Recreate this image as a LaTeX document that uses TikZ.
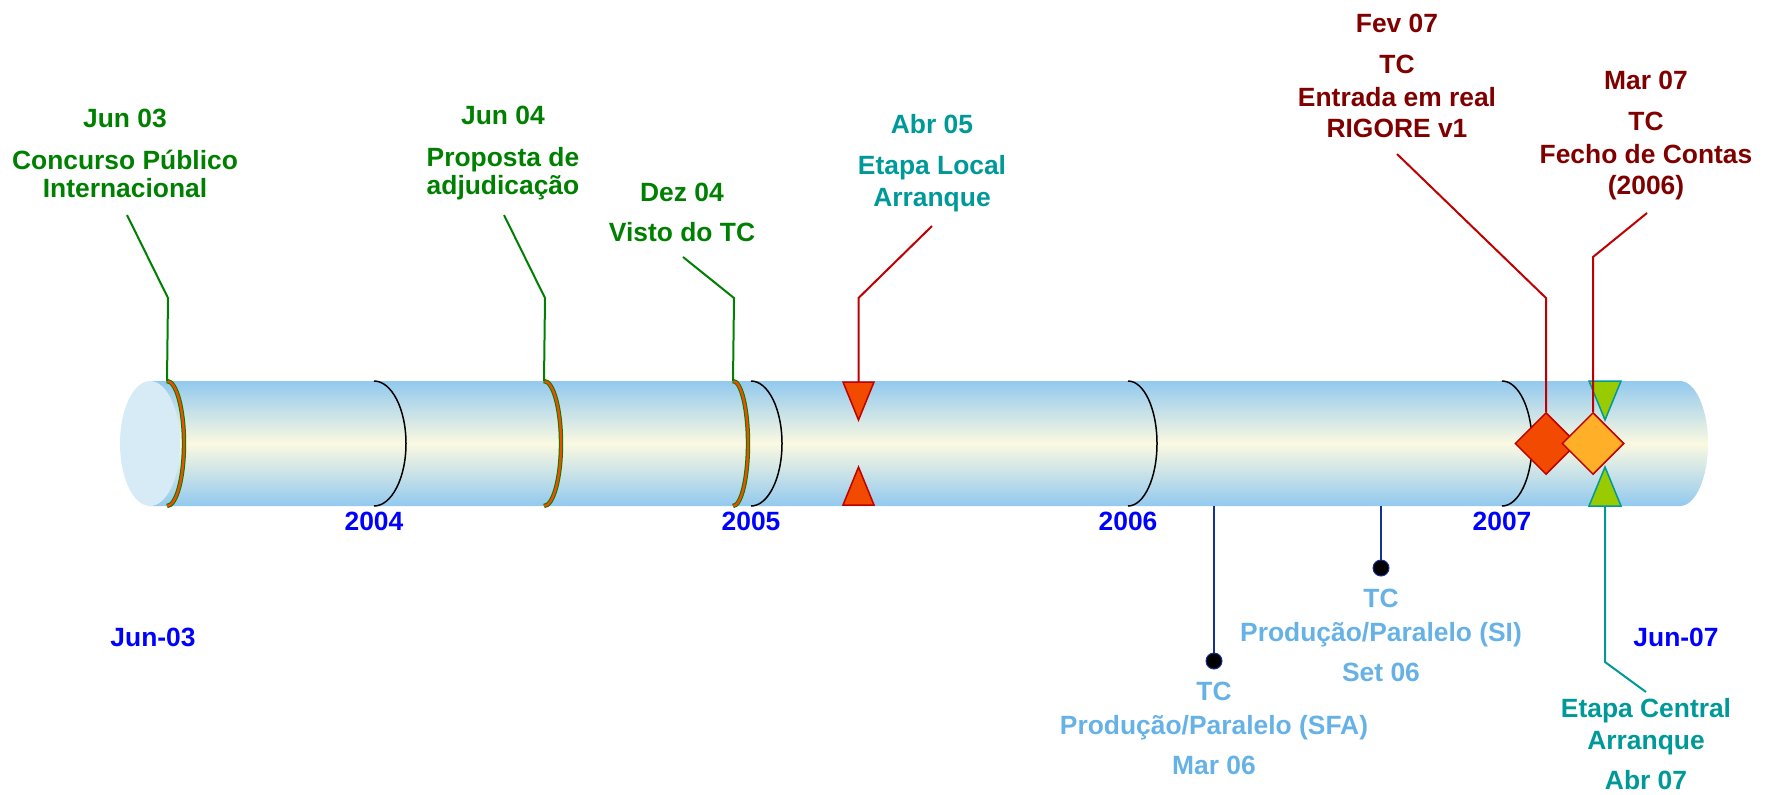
\documentclass[tikz,border=0pt]{standalone}
\usepackage{fontspec}
\setmainfont{Liberation Sans}
\usetikzlibrary{shapes.geometric}

\definecolor{tuboazul}{RGB}{146,201,238}
\definecolor{tubocreme}{RGB}{251,249,225}
\definecolor{tubotampa}{RGB}{215,235,247}
\definecolor{verde}{RGB}{0,128,0}
\definecolor{verdeagua}{RGB}{0,153,153}
\definecolor{bordo}{RGB}{128,0,0}
\definecolor{vermelho}{RGB}{192,0,0}
\definecolor{laranja}{RGB}{242,74,0}
\definecolor{ambar}{RGB}{255,176,40}
\definecolor{lima}{RGB}{153,204,0}
\definecolor{celeste}{RGB}{102,178,230}
\definecolor{marinho}{RGB}{20,50,150}
\definecolor{azulano}{RGB}{0,0,255}

\tikzset{
  txt/.style={font=\bfseries\fontsize{13.2}{15.5}\selectfont, align=center, inner sep=0pt},
  ano/.style={txt, text=azulano},
  arco/.style={draw=black, line width=0.75pt},
  anel/.style={draw=verde, line width=0.5pt, double=laranja, double distance=1.2pt},
  linha/.style={line width=1pt},
  ponto/.style={circle, fill=black, draw=marinho, line width=0.5pt, minimum size=8pt, inner sep=0pt},
  losango/.style={diamond, draw=vermelho, line width=0.75pt, minimum width=31pt, minimum height=31pt, inner sep=0pt}
}

\begin{document}
\begin{tikzpicture}[x=0.5pt,y=-0.5pt]
\useasboundingbox (0,0) rectangle (1766,794);

% tubo
\shade[top color=tuboazul, bottom color=tuboazul, middle color=tubocreme]
  (150,381) -- (1680,381) arc[start angle=90, end angle=-90, x radius=14pt, y radius=31.25pt] -- (150,506) -- cycle;
\fill[tubotampa] (150,443.5) ellipse[x radius=15pt, y radius=31.25pt];

% anos
\draw[arco] (374,381) arc[start angle=90, end angle=-90, x radius=16pt, y radius=31.25pt];
\draw[arco] (751,381) arc[start angle=90, end angle=-90, x radius=15.5pt, y radius=31.25pt];
\draw[arco] (1128,381) arc[start angle=90, end angle=-90, x radius=14.5pt, y radius=31.25pt];
\draw[arco] (1502,381) arc[start angle=90, end angle=-90, x radius=15pt, y radius=31.25pt];
\node[ano] (a2004) at (374,521) {2004};
\node[ano] (a2005) at (751,521) {2005};
\node[ano] (a2006) at (1128,521) {2006};
\node[ano] (a2007) at (1502,521) {2007};
\node[ano] (inicio) at (153,637) {Jun-03};
\node[ano] (fim) at (1676,637) {Jun-07};

% marcos verdes
\coordinate (rjun03) at (167,381);
\coordinate (rjun04) at (544,381);
\coordinate (rdez04) at (733,381);
\draw[anel] (rjun03) arc[start angle=90, end angle=-90, x radius=8.5pt, y radius=31.25pt];
\draw[anel] (rjun04) arc[start angle=90, end angle=-90, x radius=8.5pt, y radius=31.25pt];
\draw[anel] (rdez04) arc[start angle=90, end angle=-90, x radius=7.5pt, y radius=31.25pt];

\node[txt, text=verde] (jun03) at (125,153) {Jun 03\\[5.5pt]Concurso Público\\[-1.5pt]Internacional};
\node[txt, text=verde] (jun04) at (503,153) {Jun 04\\[5.5pt]Proposta de\\[-1.5pt]adjudicação};
\node[txt, text=verde] (dez04) at (682,212) {Dez 04\\[4.5pt]Visto do TC};

\coordinate (ljun03) at (127,215);
\coordinate (ljun04) at (504,215);
\coordinate (ldez04) at (683,257);
\draw[linha, verde] (ljun03) -- (168,298) -- (rjun03);
\draw[linha, verde] (ljun04) -- (545,298) -- (rjun04);
\draw[linha, verde] (ldez04) -- (734,298) -- (rdez04);

% etapa local
\node[txt, text=verdeagua] (abr05) at (932,163.5) {Abr 05\\[5pt]Etapa Local\\[0.5pt]Arranque};
\coordinate (labr05) at (932,226);
\coordinate (tabr05) at (858.5,382);
\draw[linha, vermelho] (labr05) -- (858.5,298) -- (tabr05);
\draw[fill=laranja, draw=vermelho, line width=0.75pt] (843,382) -- (874,382) -- (858.5,420) -- cycle;
\draw[fill=laranja, draw=vermelho, line width=0.75pt] (843,505) -- (874,505) -- (858.5,467) -- cycle;

% producao paralelo
\node[txt, text=celeste] (mar06) at (1214,728.5) {TC\\[1.5pt]Produção/Paralelo (SFA)\\[4.5pt]Mar 06};
\node[txt, text=celeste] (set06) at (1381,635) {TC\\[1.5pt]Produção/Paralelo (SI)\\[4.5pt]Set 06};
\coordinate (tmar06) at (1214,506);
\coordinate (tset06) at (1381,506);
\node[ponto] (pmar06) at (1214,661) {};
\node[ponto] (pset06) at (1381,568) {};
\draw[linha, marinho] (tmar06) -- (pmar06);
\draw[linha, marinho] (tset06) -- (pset06);

% etapa central
\coordinate (tabr07) at (1605,506);
\coordinate (labr07) at (1646,692);
\draw[linha, verdeagua] (tabr07) -- (1605,662) -- (labr07);
\draw[fill=lima, draw=verdeagua, line width=0.75pt] (1589,381) -- (1621,381) -- (1605,420) -- cycle;
\draw[fill=lima, draw=verdeagua, line width=0.75pt] (1589,506) -- (1621,506) -- (1605,467) -- cycle;
\node[txt, text=verdeagua] (abr07) at (1646,744) {Etapa Central\\[0.5pt]Arranque\\[4.5pt]Abr 07};

% tribunal de contas
\node[losango, fill=laranja] (dfev07) at (1546,443.5) {};
\node[losango, fill=ambar] (dmar07) at (1593,443.5) {};
\node[txt, text=bordo] (fev07) at (1397,75.5) {Fev 07\\[5pt]TC\\[1pt]Entrada em real\\RIGORE v1};
\node[txt, text=bordo] (mar07) at (1646,135.5) {Mar 07\\[5pt]TC\\[1pt]Fecho de Contas\\(2006)};
\coordinate (lfev07) at (1397,154);
\coordinate (lmar07) at (1647,213);
\draw[linha, vermelho] (lfev07) -- (1546,298) -- (dfev07.north);
\draw[linha, vermelho] (lmar07) -- (1593,257) -- (dmar07.north);

\end{tikzpicture}
\end{document}
